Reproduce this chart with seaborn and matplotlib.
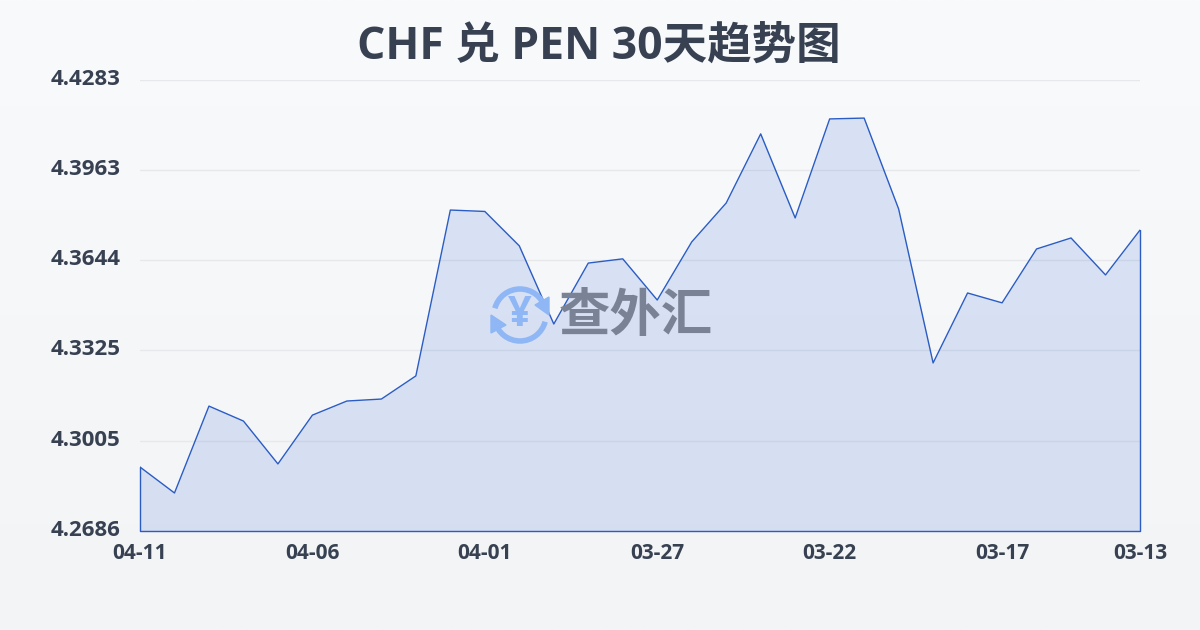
import numpy as np
import pandas as pd
import matplotlib.pyplot as plt
from matplotlib.patches import Arc, Polygon
from matplotlib.transforms import ScaledTranslation
import seaborn as sns

# daily rates, newest first
dates = ["04-11", "04-10", "04-09", "04-08", "04-07", "04-06", "04-05", "04-04", "04-03", "04-02",
         "04-01", "03-31", "03-30", "03-29", "03-28", "03-27", "03-26", "03-25", "03-24", "03-23",
         "03-22", "03-21", "03-20", "03-19", "03-18", "03-17", "03-16", "03-15", "03-14", "03-13"]
rates = [4.2911, 4.2819, 4.3127, 4.3074, 4.2922, 4.3095, 4.3145, 4.3152, 4.3234, 4.3822,
         4.3817, 4.3695, 4.3418, 4.3634, 4.3649, 4.3503, 4.3709, 4.3847, 4.4092, 4.3794,
         4.4145, 4.4148, 4.3826, 4.3280, 4.3528, 4.3493, 4.3684, 4.3723, 4.3592, 4.3751]
y_ticks = [4.2686, 4.3005, 4.3325, 4.3644, 4.3963, 4.4283]
x_tick_labels = ["04-11", "04-06", "04-01", "03-27", "03-22", "03-17", "03-13"]
title = "CHF 兑 PEN 30天趋势图"

sns.set_theme(style="white")
plt.rcParams["font.family"] = ["Open Sans", "Noto Sans CJK SC", "DejaVu Sans"]

text_color = "#374151"
line_color = "#2a5cc4"

df = pd.DataFrame({"date": dates, "rate": rates})
df["pos"] = range(len(df))

fig = plt.figure(figsize=(12, 6.3), dpi=100)

# page background
bg = fig.add_axes([0, 0, 1, 1], zorder=0)
bg.imshow(np.linspace(0, 1, 256).reshape(-1, 1), aspect="auto", extent=[0, 1, 0, 1],
          cmap=plt.matplotlib.colors.LinearSegmentedColormap.from_list("bg", ["#f9fafc", "#f3f4f6"]))
bg.axis("off")

ax = fig.add_axes([140 / 1200, 1 - 530.5 / 630, 1000 / 1200, 450.5 / 630], zorder=1)
ax.patch.set_alpha(0)

sns.lineplot(data=df, x="pos", y="rate", ax=ax, color=line_color, linewidth=1, zorder=3)
ax.fill_between(df["pos"], df["rate"], y_ticks[0], facecolor="#3b6fd8", alpha=0.16, linewidth=0, zorder=2)
ax.plot([0, 0, len(df) - 1, len(df) - 1], [rates[0], y_ticks[0], y_ticks[0], rates[-1]],
        color=line_color, linewidth=1, zorder=3, clip_on=False)

ax.set_xlim(0, len(df) - 1)
ax.set_ylim(y_ticks[0], y_ticks[-1])
ax.set_xlabel("")
ax.set_ylabel("")

ax.set_yticks(y_ticks)
ax.set_yticklabels([f"{v:.4f}" for v in y_ticks], fontsize=16, fontweight="bold", color=text_color)
ax.set_xticks([dates.index(d) for d in x_tick_labels])
ax.set_xticklabels(x_tick_labels, fontsize=15, fontweight="bold", color=text_color)
ax.tick_params(axis="y", length=0, pad=14)
ax.tick_params(axis="x", length=8, width=1, color="#e5e7eb", pad=1)

# y labels sit 2 px above their gridlines
shift = ScaledTranslation(0, 2 / 72, fig.dpi_scale_trans)
for lab in ax.get_yticklabels():
    lab.set_transform(lab.get_transform() + shift)

ax.grid(axis="y", color="#e6e8ec", linewidth=1, zorder=1)
ax.set_axisbelow(True)
sns.despine(ax=ax, left=True, bottom=True, top=True, right=True)

# pixel-space overlay for title and watermark
top = fig.add_axes([0, 0, 1, 1], zorder=2)
top.set_xlim(0, 1200)
top.set_ylim(630, 0)
top.axis("off")
top.text(599, 47, title, ha="center", va="center", fontsize=32, fontweight="bold", color=text_color)
top.text(636, 318, "查外汇", ha="center", va="center", fontsize=37, fontweight="bold", color="#7a8296")

icon = "#8fb6f5"
cx, cy, r = 520, 315, 26
top.add_patch(Arc((cx, cy), 2 * r, 2 * r, theta1=195, theta2=345, color=icon, linewidth=4))
top.add_patch(Arc((cx, cy), 2 * r, 2 * r, theta1=15, theta2=165, color=icon, linewidth=4))
top.add_patch(Polygon([[491, 315], [506, 325], [491, 333]], color=icon))
top.add_patch(Polygon([[549, 315], [535, 305], [549, 297]], color=icon))
top.text(cx, cy, "¥", ha="center", va="center", fontsize=30, fontweight="bold", color=icon)

fig.savefig("out.png", dpi=100)
